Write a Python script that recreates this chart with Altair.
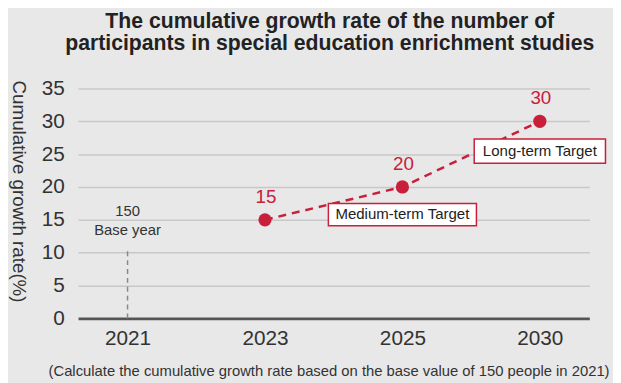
import altair as alt
import pandas as pd

# ---- data ----
years = ["2021", "2023", "2025", "2030"]
growth = [None, 15, 20, 30]
growth_labels = ["", "15", "20", "30"]

base_year = ["2021"]
base_line_top = [10.7]
base_text = ["150", "Base year"]
base_text_val = [16.4, 13.4]

box_years = ["2025", "2030"]
box_labels = ["Medium-term Target", "Long-term Target"]
box_low = [14.1, 23.6]
box_high = [17.5, 27.3]
box_mid = [15.8, 25.45]

y_ticks = [0, 5, 10, 15, 20, 25, 30, 35]
title_lines = ["The cumulative growth rate of the number of",
               "participants in special education enrichment studies"]
y_title = "Cumulative growth rate(%)"
footnote = "(Calculate the cumulative growth rate based on the base value of 150 people in 2021)"

RED = "#c8203a"
FONT = "Liberation Sans"
TXT = "#333333"

df = pd.DataFrame({"year": years, "val": growth, "lab": growth_labels})
pts = df.dropna().reset_index(drop=True)
base_df = pd.DataFrame({"year": base_year, "val": [0], "val2": base_line_top})
base_txt = pd.DataFrame({"year": [base_year[0]] * 2, "val": base_text_val, "lab": base_text})
boxes = pd.DataFrame({"year": box_years, "val": box_low, "val2": box_high,
                      "mid": box_mid, "lab": box_labels})

x_axis = alt.Axis(title=footnote, titleFont=FONT, titleFontSize=15,
                  titleFontWeight="normal", titleColor=TXT,
                  titleAlign="right", titleBaseline="middle",
                  titleX=538, titleY=53, titleAnchor="end",
                  labelFont=FONT, labelFontSize=21, labelColor=TXT,
                  labelPadding=9, labelAngle=0, ticks=False,
                  domainColor="#555555", domainWidth=3, grid=False)
y_axis = alt.Axis(values=y_ticks, title=y_title, titleFont=FONT,
                  titleFontSize=19, titleFontWeight="normal",
                  titleColor=TXT, titleAngle=90, titleAlign="center",
                  titleBaseline="middle", titleX=-60, titleY=104,
                  labelFont=FONT, labelFontSize=21, labelColor=TXT,
                  labelPadding=14, labelOverlap=False, ticks=False,
                  domain=False, grid=True, gridColor="#c8c8c8",
                  gridWidth=1.5)


def X():
    return alt.X("year:N", sort=years,
                 scale=alt.Scale(type="point", domain=years, padding=0.36),
                 axis=x_axis)


def Y(field="val"):
    return alt.Y(f"{field}:Q", scale=alt.Scale(domain=[0, 35], nice=False),
                 axis=y_axis)


base_rule = alt.Chart(base_df).mark_rule(
    color="#888888", strokeWidth=1.5, strokeDash=[5, 4]
).encode(x=X(), y=Y(), y2="val2:Q")

base_label = alt.Chart(base_txt).mark_text(
    font=FONT, fontSize=15, color=TXT
).encode(x=X(), y=Y(), text="lab:N")

line = alt.Chart(pts).mark_line(
    color=RED, strokeWidth=2.5, strokeDash=[8, 6]
).encode(x=X(), y=Y())

box_layers = []
for i, w in enumerate([150, 133]):
    sub = boxes.iloc[[i]]
    box_layers.append(alt.Chart(sub).mark_bar(
        width=w, fill="white", stroke=RED, strokeWidth=1.5
    ).encode(x=X(), y=Y(), y2="val2:Q"))
box_text = alt.Chart(boxes).mark_text(
    font=FONT, fontSize=15.2, color="#222222"
).encode(x=X(), y=Y("mid"), text="lab:N")

points = alt.Chart(pts).mark_point(
    filled=True, size=180, color=RED, opacity=1
).encode(x=X(), y=Y())

pt_labels = alt.Chart(pts).mark_text(
    font=FONT, fontSize=19, color=RED, dy=-23, dx=1
).encode(x=X(), y=Y(), text="lab:N")

chart = alt.layer(
    base_rule, base_label, line, *box_layers, box_text, points, pt_labels
).properties(
    width=518, height=233,
    title=alt.Title(title_lines, font=FONT, fontSize=21.5, fontWeight="bold",
                    color="#222222", anchor="middle", frame="group", dx=-4,
                    offset=23, lineHeight=23),
    background="#e8e8e8",
    autosize=alt.AutoSizeParams(type="none"),
    padding={"left": 71, "top": 79, "right": 24, "bottom": 63},
).configure_view(stroke=None)

chart.save("out.html", embed_options={"renderer": "svg", "actions": False})
